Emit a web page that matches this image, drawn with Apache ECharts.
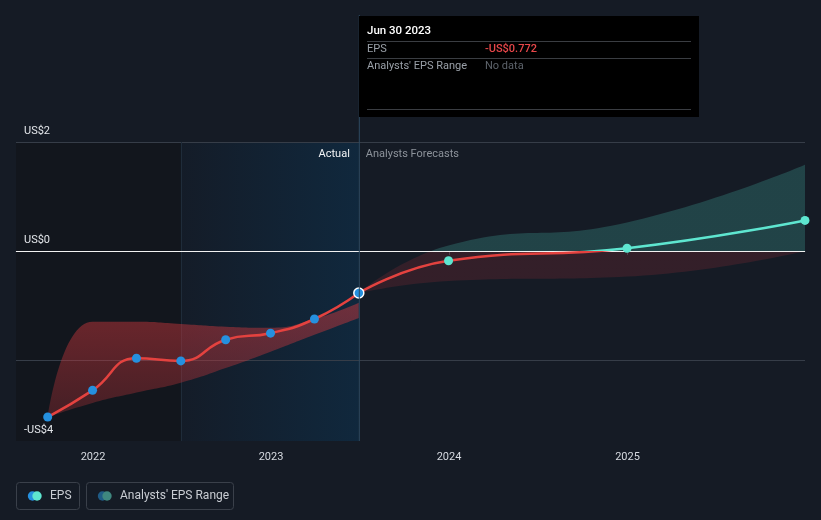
<!DOCTYPE html>
<html><head><meta charset="utf-8">
<script src="https://cdn.jsdelivr.net/npm/echarts@6/dist/echarts.min.js"></script>
<style>html,body{margin:0;padding:0;background:#151b25;}#c{width:821px;height:520px;}</style>
</head><body><div id="c"></div>
<script>
// ---- data ----
const actualDates = ['2021-09-30','2021-12-31','2022-03-31','2022-06-30','2022-09-30','2022-12-31','2023-03-31','2023-06-30'];
const actualEps   = [-3.05, -2.56, -1.97, -2.02, -1.63, -1.51, -1.25, -0.772];
const pastRangeLow  = [-3.05, -2.79, -2.60, -2.42, -2.15, -1.85, -1.54, -1.23];
const pastRangeHigh = [-3.05, -1.30, -1.30, -1.34, -1.39, -1.41, -1.25, -0.95];
const forecastDates = ['2023-06-30','2023-12-31','2024-12-31','2025-12-31'];
const forecastEps   = [-0.772, -0.18, 0.05, 0.56];
const forecastLow   = [-0.772, -0.55, -0.47, 0.0];
const forecastHigh  = [-0.772, 0.10, 0.52, 1.58];
const yTicks = [2, 0, -2];
const yTickLabels = ['US$2', 'US$0', ''];
const yBottomLabel = '-US$4';
const xMin = '2021-07-27', xMax = '2025-12-31';
const yMin = -3.49, yMax = 2;
const actualStart = '2022-06-30', actualEnd = '2023-06-30';
const tipTitle = 'Jun 30 2023', tipEpsLabel = 'EPS', tipEpsValue = '-US$0.772', tipRangeLabel = "Analysts' EPS Range", tipRangeValue = 'No data';
const legendNames = ['EPS', "Analysts' EPS Range"];
const sectionLabels = ['Actual', 'Analysts Forecasts'];

const FONT = 'Roboto, "Noto Sans", sans-serif';
const pair = (d, v) => d.map((x, i) => [x, v[i]]);
const diff = (h, l) => h.map((x, i) => +(x - l[i]).toFixed(4));

const chart = echarts.init(document.getElementById('c'), null, {renderer: 'canvas'});

const gridLineStyle = {color: '#363d48', width: 1, type: 'solid'};
const tickLabelStyle = {show: true, position: 'insideStartTop', distance: [8, 5], color: '#e3e6ea', fontSize: 11, fontFamily: FONT};
const base = {
  backgroundColor: '#151b25',
  animation: false,
  grid: {left: 16, right: 16, top: 142, bottom: 79},
  xAxis: {
    type: 'time', min: xMin, max: xMax,
    minInterval: 365 * 24 * 3600 * 1000,
    axisLine: {lineStyle: {color: '#3d4451', width: 1}},
    axisTick: {show: true, length: 4, lineStyle: {color: '#3d4451'}},
    axisLabel: {color: '#d6dae0', fontSize: 11, fontFamily: FONT, margin: 11, formatter: '{yyyy}', showMinLabel: false, showMaxLabel: false},
    splitLine: {show: false}
  },
  yAxis: {type: 'value', min: yMin, max: yMax, show: false, splitLine: {show: false}},
  series: [
    {
      name: 'regions', type: 'line', data: [], z: 1, silent: true,
      markArea: {
        silent: true, z: 1,
        data: [
          [{xAxis: xMin, itemStyle: {color: '#12161d'}}, {xAxis: actualStart}],
          [{xAxis: actualStart, itemStyle: {color: {type: 'linear', x: 0, y: 0, x2: 1, y2: 0, colorStops: [{offset: 0, color: '#141c28'}, {offset: 1, color: '#10283d'}]}}}, {xAxis: actualEnd}]
        ]
      },
      markLine: {
        silent: true, symbol: 'none', z: 1,
        data: [
          ...yTicks.filter(v => v !== 0).map((v) => ({yAxis: v, lineStyle: gridLineStyle, label: {formatter: yTickLabels[yTicks.indexOf(v)]}})),
          {yAxis: yMin, lineStyle: {color: 'rgba(0,0,0,0)'}, label: {formatter: yBottomLabel}},
          {xAxis: actualStart, lineStyle: {color: '#1f2c3a', width: 1, type: 'solid'}, label: {show: false}}
        ],
        label: tickLabelStyle
      }
    },
    {name: 'pastLow', type: 'line', stack: 'past', stackStrategy: 'all', smooth: true, symbol: 'none', z: 2, silent: true,
     lineStyle: {opacity: 0}, data: pair(actualDates, pastRangeLow)},
    {name: 'pastRange', type: 'line', stack: 'past', stackStrategy: 'all', smooth: true, symbol: 'none', z: 2, silent: true,
     lineStyle: {opacity: 0},
     areaStyle: {color: {type: 'linear', x: 0, y: 0, x2: 0, y2: 1, colorStops: [{offset: 0, color: 'rgba(205,55,60,0.5)'}, {offset: 1, color: 'rgba(205,55,60,0.27)'}]}, opacity: 1},
     data: pair(actualDates, diff(pastRangeHigh, pastRangeLow))},
    {name: 'fcLow', type: 'line', stack: 'fc', stackStrategy: 'all', smooth: true, symbol: 'none', z: 2, silent: true,
     lineStyle: {opacity: 0}, data: pair(forecastDates, forecastLow)},
    {name: 'fcRange', type: 'line', stack: 'fc', stackStrategy: 'all', smooth: true, symbol: 'none', z: 2, silent: true,
     lineStyle: {opacity: 0}, areaStyle: {color: 'rgba(62,160,150,0.33)', opacity: 1},
     data: pair(forecastDates, diff(forecastHigh, forecastLow))},
    {name: 'zero', type: 'line', data: [], z: 3, silent: true,
     markLine: {silent: true, symbol: 'none', z: 3, data: [{yAxis: 0, label: {formatter: yTickLabels[1]}}],
       lineStyle: {color: '#f2f2f2', width: 1.2, type: 'solid'},
       label: tickLabelStyle}},
    {name: 'EPS', type: 'line', smooth: true, z: 4, symbol: 'circle', symbolSize: 9,
     lineStyle: {color: '#e4423f', width: 2.5}, itemStyle: {color: '#2590df'},
     data: pair(actualDates, actualEps).map((p, i, a) => i === a.length - 1 ? {value: p, itemStyle: {color: '#2590df', borderColor: '#ffffff', borderWidth: 1.5}, symbolSize: 10} : p)},
    {name: 'EPS forecast', type: 'line', smooth: true, z: 4, symbol: 'circle', symbolSize: 9,
     lineStyle: {color: '#e4423f', width: 2.5}, itemStyle: {color: '#5ee6d0'},
     data: pair(forecastDates, forecastEps).map((p, i) => i === 0 ? {value: p, symbol: 'none'} : p)}
  ]
};
chart.setOption(base);

const zeroY = chart.convertToPixel({yAxisIndex: 0}, 0);
const xEnd = chart.convertToPixel({xAxisIndex: 0}, actualEnd);
const bottomY = chart.convertToPixel({yAxisIndex: 0}, yMin);
const splitGrad = (above, below) => ({type: 'linear', x: 0, y: zeroY - 0.5, x2: 0, y2: zeroY + 0.5, global: true,
  colorStops: [{offset: 0, color: above}, {offset: 0.5, color: above}, {offset: 0.5, color: below}, {offset: 1, color: below}]});

const txt = (x, y, text, color, extra) => ({type: 'text', x: x, y: y, silent: true, z: 100,
  style: Object.assign({text: text, fill: color, font: '11px ' + FONT, align: 'left', verticalAlign: 'middle'}, (extra || {}))});
const hline = (x1, x2, y, color) => ({type: 'line', silent: true, z: 100, shape: {x1: x1, y1: y, x2: x2, y2: y}, style: {stroke: color, lineWidth: 1}});

chart.setOption({
  series: [
    {name: 'fcRange', areaStyle: {color: splitGrad('rgba(62,160,150,0.30)', 'rgba(160,45,55,0.22)')}},
    {name: 'EPS forecast', lineStyle: {color: splitGrad('#5ee6d0', '#e4423f')}}
  ],
  graphic: [
    {type: 'line', silent: true, z: 50, shape: {x1: xEnd + 0.5, y1: 15, x2: xEnd + 0.5, y2: bottomY}, style: {stroke: '#2d4a62', lineWidth: 1}},
    {type: 'group', z: 100, children: [
      txt(xEnd - 9, 154, sectionLabels[0], '#f0f2f4', {align: 'right'}),
      txt(xEnd + 7, 154, sectionLabels[1], '#8d939b')
    ]},
    // tooltip box
    {type: 'group', z: 100, children: [
      {type: 'rect', silent: true, z: 99, shape: {x: 359, y: 16, width: 340, height: 101}, style: {fill: '#000000'}},
      txt(367, 31, tipTitle, '#ffffff', {font: '500 11.5px ' + FONT}),
      hline(367, 691, 41.5, '#3a3d42'),
      txt(367, 49, tipEpsLabel, '#9aa0a8'),
      txt(485, 49, tipEpsValue, '#e8474a', {font: '500 11px ' + FONT}),
      hline(367, 691, 58.5, '#3a3d42'),
      txt(367, 66, tipRangeLabel, '#9aa0a8'),
      txt(485, 66, tipRangeValue, '#5d636b'),
      hline(367, 691, 109.5, '#3a3d42')
    ]},
    // legend
    {type: 'group', z: 100, children: [
      {type: 'rect', silent: true, z: 100, shape: {x: 16.5, y: 482.5, width: 63, height: 27, r: 3}, style: {fill: 'transparent', stroke: '#3a404a', lineWidth: 1}},
      {type: 'circle', silent: true, z: 100, shape: {cx: 32.5, cy: 496, r: 4.7}, style: {fill: '#2590df'}},
      {type: 'circle', silent: true, z: 101, shape: {cx: 37, cy: 496, r: 4.7}, style: {fill: '#5ee6d0'}},
      txt(50, 496, legendNames[0], '#c9cdd3', {font: '12px ' + FONT}),
      {type: 'rect', silent: true, z: 100, shape: {x: 86.5, y: 482.5, width: 147, height: 27, r: 3}, style: {fill: 'transparent', stroke: '#3a404a', lineWidth: 1}},
      {type: 'circle', silent: true, z: 100, shape: {cx: 102.5, cy: 496, r: 4.7}, style: {fill: '#1f5b85'}},
      {type: 'circle', silent: true, z: 101, shape: {cx: 107, cy: 496, r: 4.7}, style: {fill: '#3f877f'}},
      txt(120, 496, legendNames[1], '#c9cdd3', {font: '12px ' + FONT})
    ]}
  ]
});
</script></body></html>
